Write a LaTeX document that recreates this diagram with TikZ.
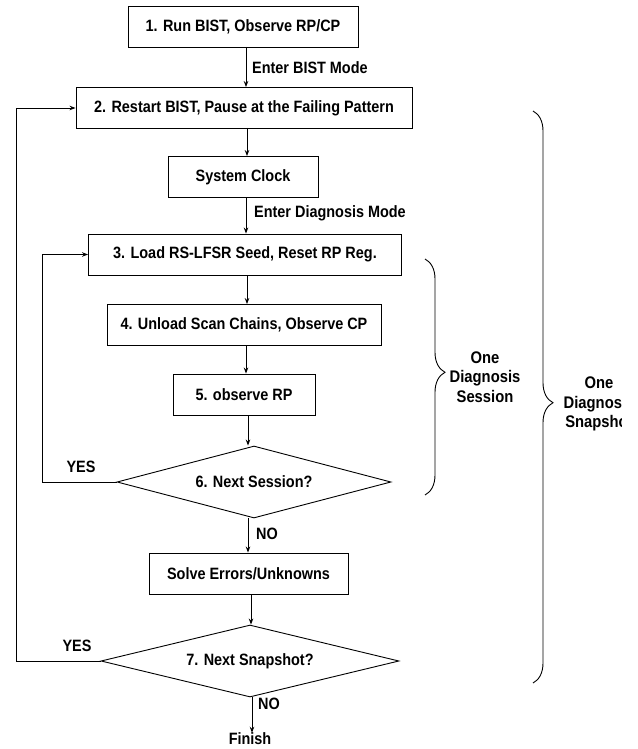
\documentclass[tikz,border=0pt]{standalone}
\usepackage{fontspec}
\setmainfont{Liberation Sans}[FakeStretch=0.88]
\usetikzlibrary{arrows.meta,shapes.geometric,decorations.pathreplacing}
\tikzset{
  box/.style={draw=black,line width=0.9pt,rectangle,inner sep=0pt,minimum height=41pt},
  dia/.style={draw=black,line width=0.9pt,diamond,inner sep=0pt,minimum height=72pt},
  arr/.style={line width=0.9pt,-{Stealth[length=6pt,width=4.5pt]}},
  line/.style={line width=0.9pt},
  lbl/.style={inner sep=0pt},
  brc/.style={line width=0.9pt,decorate},
  every node/.style={font=\fontsize{16.4}{19}\selectfont\bfseries},
  brlbl/.style={align=center,font=\fontsize{16.8}{19.5}\selectfont\bfseries}
}
\begin{document}
\begin{tikzpicture}[x=1pt,y=-1pt]
\useasboundingbox (0,0) rectangle (637,749);
\clip (0,0) rectangle (621,749);
\node[box,minimum width=230pt] (b1) at (243,27) {1. Run BIST, Observe RP/CP};
\node[box,minimum width=336pt] (b2) at (244,108) {2. Restart BIST, Pause at the Failing Pattern};
\node[box,minimum width=150pt] (sc) at (243,177) {System Clock};
\node[box,minimum width=313pt] (b3) at (245,254.5) {3. Load RS-LFSR Seed, Reset RP Reg.};
\node[box,minimum width=274pt] (b4) at (244,325) {4. Unload Scan Chains, Observe CP};
\node[box,minimum width=142pt] (b5) at (244,394.5) {5. observe RP};
\node[dia,minimum width=274pt,shape aspect=3.8] (d6) at (254,482) {6. Next Session?};
\node[box,minimum width=199pt] (sv) at (248.5,573.5) {Solve Errors/Unknowns};
\node[dia,minimum width=298pt,shape aspect=4.1] (d7) at (250,661) {7. Next Snapshot?};
\node[lbl] (fin) at (250,739) {Finish};

\coordinate (a1) at (246,47);
\coordinate (a2) at (247,128);
\coordinate (a3) at (246,197);
\coordinate (a4) at (247,275);
\coordinate (a5) at (246,345);
\coordinate (a6) at (248,415);
\coordinate (a7) at (248,518);
\coordinate (a8) at (251,594);
\coordinate (a9) at (252,697);

\draw[arr] (a1) -- (a1 |- b2.north);
\draw[arr] (a2) -- (a2 |- sc.north);
\draw[arr] (a3) -- (a3 |- b3.north);
\draw[arr] (a4) -- (a4 |- b4.north);
\draw[arr] (a5) -- (a5 |- b5.north);
\draw[arr] (a6) -- (a6 |- d6.north);
\draw[arr] (a7) -- (a7 |- sv.north);
\draw[arr] (a8) -- (a8 |- d7.north);
\draw[arr] (a9) -- (a9 |- fin.north);

\node[lbl,anchor=west] (l1) at (252,68) {Enter BIST Mode};
\node[lbl,anchor=west] (l2) at (254,213) {Enter Diagnosis Mode};
\node[lbl] (y6) at (81,467) {YES};
\node[lbl,anchor=west] (n6) at (256,534) {NO};
\node[lbl] (y7) at (77,646) {YES};
\node[lbl,anchor=west] (n7) at (258,704) {NO};

\coordinate (c6) at (42,482);
\coordinate (c7) at (16,661);
\draw[arr] (d6.west) -- (c6) -- (c6 |- b3.west) -- (b3.west);
\draw[arr] (d7.west) -- (c7) -- (c7 |- b2.west) -- (b2.west);

\coordinate (s1) at (425,259);
\coordinate (s2) at (425,495);
\draw[brc,decoration={brace,amplitude=20pt,aspect=0.48}] (s1) -- (s2);
\node[brlbl] (t1) at (485,377) {One\\Diagnosis\\Session};

\coordinate (g1) at (533,111);
\coordinate (g2) at (533,683);
\draw[brc,decoration={brace,amplitude=20pt,aspect=0.51}] (g1) -- (g2);
\node[brlbl] (t2) at (599,404) {One\\Diagnosis\\Snapshot};
\end{tikzpicture}
\end{document}
